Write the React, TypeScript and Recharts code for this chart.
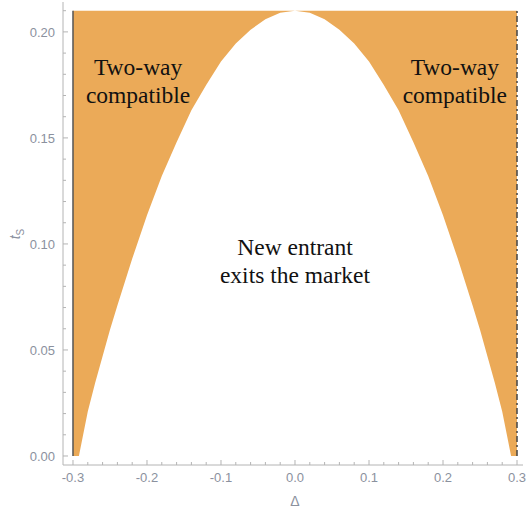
import {
  Area,
  ComposedChart,
  ReferenceDot,
  ReferenceLine,
  XAxis,
  YAxis,
} from "recharts";

// Δ positions along the boundary curve
const deltaValues = [
  -0.3, -0.292, -0.28, -0.27, -0.26, -0.25, -0.24, -0.22, -0.2, -0.18, -0.16,
  -0.14, -0.12, -0.1, -0.08, -0.06, -0.04, -0.02, 0, 0.02, 0.04, 0.06, 0.08,
  0.1, 0.12, 0.14, 0.16, 0.18, 0.2, 0.22, 0.24, 0.25, 0.26, 0.27, 0.28, 0.292,
  0.3,
];

// lower edge of the orange region (t_S where the new entrant exits)
const lowerBound = [
  0, 0, 0.021, 0.0345, 0.047, 0.0595, 0.071, 0.093, 0.1135, 0.132, 0.148,
  0.163, 0.175, 0.186, 0.1945, 0.201, 0.206, 0.209, 0.21, 0.209, 0.206, 0.201,
  0.1945, 0.186, 0.175, 0.163, 0.148, 0.132, 0.1135, 0.093, 0.071, 0.0595,
  0.047, 0.0345, 0.021, 0, 0,
];

// upper edge: the plot is cut at t_S = 0.21
const upperBound = deltaValues.map(() => 0.21);

const xMajorTicks = [-0.3, -0.2, -0.1, 0, 0.1, 0.2, 0.3];
const xMinorTicks = [
  -0.3, -0.28, -0.26, -0.24, -0.22, -0.2, -0.18, -0.16, -0.14, -0.12, -0.1,
  -0.08, -0.06, -0.04, -0.02, 0, 0.02, 0.04, 0.06, 0.08, 0.1, 0.12, 0.14, 0.16,
  0.18, 0.2, 0.22, 0.24, 0.26, 0.28, 0.3,
];
const yMajorTicks = [0, 0.05, 0.1, 0.15, 0.2];
const yMinorTicks = [
  0, 0.01, 0.02, 0.03, 0.04, 0.05, 0.06, 0.07, 0.08, 0.09, 0.1, 0.11, 0.12,
  0.13, 0.14, 0.15, 0.16, 0.17, 0.18, 0.19, 0.2, 0.21,
];

const boundaryLines = [-0.3, 0.3];

const regionLabels = [
  { x: -0.212, y: 0.1797, lines: ["Two-way", "compatible"] },
  { x: 0.216, y: 0.1797, lines: ["Two-way", "compatible"] },
  { x: 0, y: 0.0948, lines: ["New entrant", "exits the market"] },
];

const X_DOMAIN = [-0.3135, 0.3081];
const Y_DOMAIN = [-0.00425, 0.2141];

const FRAME = "#b4b4b4";
const TICK_TEXT = "#8b919e";
const FILL = "#ebaa58";
const SANS = "'Liberation Sans', Arial, sans-serif";
const SERIF = "'Liberation Serif', 'Times New Roman', serif";

const data = deltaValues.map((d, i) => ({
  d,
  band: [lowerBound[i], upperBound[i]],
}));

const isMajor = (v: number, majors: number[]) =>
  majors.some((m) => Math.abs(m - v) < 1e-6);

const BottomTick = (props: any) => {
  const { x, y, payload } = props;
  const major = isMajor(payload.value, xMajorTicks);
  return (
    <g>
      <line x1={x} x2={x} y1={y} y2={y - (major ? 5 : 3)} stroke={FRAME} />
      {major && (
        <text
          x={x}
          y={y + 17}
          textAnchor="middle"
          fontSize={13}
          fontFamily={SANS}
          fill={TICK_TEXT}
        >
          {payload.value.toFixed(1)}
        </text>
      )}
    </g>
  );
};

const TopTick = (props: any) => {
  const { x, y, payload } = props;
  const major = isMajor(payload.value, xMajorTicks);
  return <line x1={x} x2={x} y1={y} y2={y + (major ? 5 : 3)} stroke={FRAME} />;
};

const LeftTick = (props: any) => {
  const { x, y, payload } = props;
  const major = isMajor(payload.value, yMajorTicks);
  return (
    <g>
      <line x1={x} x2={x + (major ? 5 : 3)} y1={y} y2={y} stroke={FRAME} />
      {major && (
        <text
          x={x - 8}
          y={y}
          dy="0.36em"
          textAnchor="end"
          fontSize={13}
          fontFamily={SANS}
          fill={TICK_TEXT}
        >
          {payload.value.toFixed(2)}
        </text>
      )}
    </g>
  );
};

const RightTick = (props: any) => {
  const { x, y, payload } = props;
  const major = isMajor(payload.value, yMajorTicks);
  return <line x1={x} x2={x - (major ? 5 : 3)} y1={y} y2={y} stroke={FRAME} />;
};

const regionText = (lines: string[]) => (props: any) => {
  const vb = props.viewBox || {};
  const cx = (vb.x ?? 0) + (vb.width ?? 0) / 2;
  const cy = (vb.y ?? 0) + (vb.height ?? 0) / 2;
  return (
    <text
      x={cx}
      y={cy}
      textAnchor="middle"
      fontSize={23.5}
      fontFamily={SERIF}
      fill="#111"
    >
      {lines.map((line, i) => (
        <tspan key={line} x={cx} dy={i === 0 ? 0 : 28}>
          {line}
        </tspan>
      ))}
    </text>
  );
};

const YTitle = () => (
  <text
    x={20}
    y={234}
    transform="rotate(-90, 20, 234)"
    textAnchor="middle"
    fontSize={14}
    fontFamily={SANS}
    fill={TICK_TEXT}
  >
    <tspan fontStyle="italic">t</tspan>
    <tspan fontSize={10} dy={4}>
      S
    </tspan>
  </text>
);

const XTitle = () => (
  <text
    x={295}
    y={506}
    textAnchor="middle"
    fontSize={14}
    fontFamily={SANS}
    fill={TICK_TEXT}
  >
    Δ
  </text>
);

export default function App() {
  return (
    <div style={{ position: "absolute", left: 0, top: 0, background: "#fff" }}>
      <ComposedChart
        width={532}
        height={512}
        data={data}
        margin={{ top: 2, right: 9, bottom: 0, left: 0 }}
      >
        <XAxis
          dataKey="d"
          type="number"
          domain={X_DOMAIN}
          allowDataOverflow
          ticks={xMinorTicks}
          interval={0}
          tickSize={0}
          tickMargin={0}
          tickLine={false}
          tick={BottomTick}
          axisLine={{ stroke: FRAME }}
          height={47}
          label={{ content: XTitle }}
        />
        <XAxis
          xAxisId="top"
          orientation="top"
          type="number"
          domain={X_DOMAIN}
          allowDataOverflow
          ticks={xMinorTicks}
          interval={0}
          tickSize={0}
          tickMargin={0}
          tickLine={false}
          tick={TopTick}
          axisLine={{ stroke: FRAME }}
          height={0}
        />
        <YAxis
          type="number"
          domain={Y_DOMAIN}
          allowDataOverflow
          ticks={yMinorTicks}
          interval={0}
          tickSize={0}
          tickMargin={0}
          tickLine={false}
          tick={LeftTick}
          axisLine={{ stroke: FRAME }}
          width={63}
          label={{ content: YTitle }}
        />
        <YAxis
          yAxisId="right"
          orientation="right"
          type="number"
          domain={Y_DOMAIN}
          allowDataOverflow
          ticks={yMinorTicks}
          interval={0}
          tickSize={0}
          tickMargin={0}
          tickLine={false}
          tick={RightTick}
          axisLine={{ stroke: FRAME }}
          width={0}
        />
        <Area
          dataKey="band"
          type="linear"
          fill={FILL}
          fillOpacity={1}
          stroke="none"
          isAnimationActive={false}
        />
        {boundaryLines.map((x, i) => (
          <ReferenceLine
            key={x}
            segment={[
              { x, y: 0 },
              { x, y: 0.21 },
            ]}
            stroke={i === 0 ? "#555" : "#444"}
            strokeWidth={1.5}
            strokeDasharray={i === 0 ? undefined : "6 3 2 3"}
          />
        ))}
        {regionLabels.map((r, i) => (
          <ReferenceDot
            key={i}
            x={r.x}
            y={r.y}
            r={0}
            fill="none"
            stroke="none"
            label={{ content: regionText(r.lines) }}
          />
        ))}
      </ComposedChart>
    </div>
  );
}
